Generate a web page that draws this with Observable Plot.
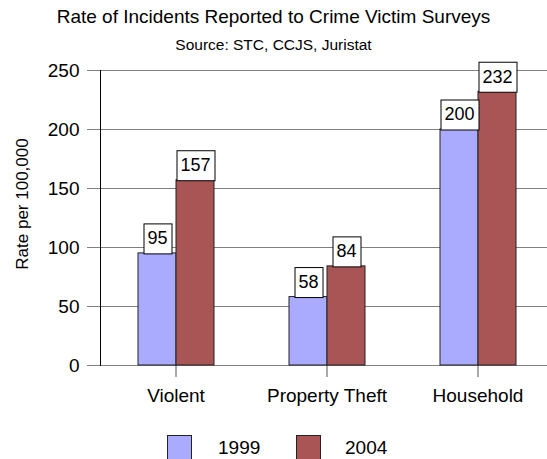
<!DOCTYPE html>
<html>
<head>
<meta charset="utf-8">
<script src="https://cdn.jsdelivr.net/npm/d3@7"></script>
<script src="https://cdn.jsdelivr.net/npm/@observablehq/plot@0.6"></script>
<style>
  html, body { margin: 0; padding: 0; background: #fff; overflow: hidden; }
  #chart { position: relative; width: 547px; height: 459px; overflow: hidden;
           font-family: "Liberation Sans", Arial, sans-serif; color: #000; }
  #chart svg { position: absolute; left: 0; top: 0; max-width: none; }
  .title { position: absolute; left: 0; width: 547px; text-align: center; top: 7px;
           font-size: 19px; line-height: 19px; white-space: nowrap; }
  .subtitle { position: absolute; left: 0; width: 547px; text-align: center; top: 37px;
              font-size: 15.5px; line-height: 16px; white-space: nowrap; }
  .ylabel { position: absolute; left: -77px; top: 194px; width: 200px; height: 20px;
            line-height: 20px; font-size: 17px; text-align: center; white-space: nowrap;
            transform: rotate(-90deg); transform-origin: 50% 50%; }
  .legend { position: absolute; top: 435px; left: 0; width: 547px; height: 30px; }
  .swatch { position: absolute; top: 0; width: 25px; height: 26px; box-sizing: border-box;
            border: 1px solid #222; }
  .ltext { position: absolute; top: 2px; font-size: 19px; line-height: 22px; }
</style>
</head>
<body>
<div id="chart">
  <div class="title">Rate of Incidents Reported to Crime Victim Surveys</div>
  <div class="subtitle">Source: STC, CCJS, Juristat</div>
  <div class="ylabel">Rate per 100,000</div>
  <div class="legend" id="legend"></div>
</div>
<script>
// Survey categories and incident rates per 100,000
const categories = ["Violent", "Property Theft", "Household"];
const years = ["1999", "2004"];
const rates1999 = [95, 58, 200];
const rates2004 = [157, 84, 232];
const yTicks = [0, 50, 100, 150, 200, 250];
const colors = ["#aaaaff", "#aa5555"];

const rows = [];
categories.forEach((c, i) => {
  rows.push({category: c, year: years[0], value: rates1999[i]});
  rows.push({category: c, year: years[1], value: rates2004[i]});
});

const chart = Plot.plot({
  width: 554,
  height: 420,
  marginLeft: 99,
  marginRight: 0,
  marginTop: 70,
  marginBottom: 55,
  style: {fontFamily: "Liberation Sans, Arial, sans-serif", fontSize: "19px", color: "#000",
          background: "transparent", overflow: "visible", maxWidth: "none"},
  fx: {domain: categories, padding: 0, label: null},
  x: {domain: years, paddingInner: 0, paddingOuter: 0.97, axis: null},
  y: {domain: [0, 250], label: null},
  color: {domain: years, range: colors},
  marks: [
    Plot.ruleY(yTicks, {stroke: "#808080", strokeWidth: 1}),
    Plot.axisY(yTicks, {tickSize: 13, tickPadding: 8, stroke: "#808080", fontSize: 19, label: null}),
    Plot.frame({anchor: "left", facetAnchor: "left", stroke: "#000"}),
    Plot.axisFx({anchor: "bottom", tickSize: 12, tickPadding: 11, stroke: "#555", fontSize: 19, label: null}),
    Plot.barY(rows, {fx: "category", x: "year", y: "value", fill: "year", stroke: "#222", strokeWidth: 1}),
    Plot.text(rows, {fx: "category", x: "year", y: "value", text: d => String(d.value),
                     dy: -15, fontSize: 18, lineAnchor: "middle", fill: "#000"})
  ]
});
const holder = document.getElementById("chart");
holder.insertBefore(chart, holder.firstChild);

// Boxed value labels: a white rectangle with a black outline behind each number
chart.querySelectorAll('g[aria-label="text"] text').forEach(t => {
  const b = t.getBBox();
  const cy = b.y + b.height / 2;
  const r = document.createElementNS("http://www.w3.org/2000/svg", "rect");
  const x0 = Math.round(b.x - 4) + 0.5;
  const w = Math.round(b.width + 8);
  r.setAttribute("x", x0);
  r.setAttribute("y", Math.round(cy - 15) + 0.5);
  r.setAttribute("width", w);
  r.setAttribute("height", 30);
  r.setAttribute("fill", "#fff");
  r.setAttribute("stroke", "#000");
  const tr = t.getAttribute("transform");
  if (tr) r.setAttribute("transform", tr);
  t.parentNode.insertBefore(r, t);
});

// Legend
const legend = document.getElementById("legend");
const legendPos = [{sx: 167, tx: 218}, {sx: 296, tx: 345}];
years.forEach((y, i) => {
  const s = document.createElement("div");
  s.className = "swatch";
  s.style.left = legendPos[i].sx + "px";
  s.style.background = colors[i];
  legend.appendChild(s);
  const t = document.createElement("div");
  t.className = "ltext";
  t.style.left = legendPos[i].tx + "px";
  t.textContent = y;
  legend.appendChild(t);
});
</script>
</body>
</html>
